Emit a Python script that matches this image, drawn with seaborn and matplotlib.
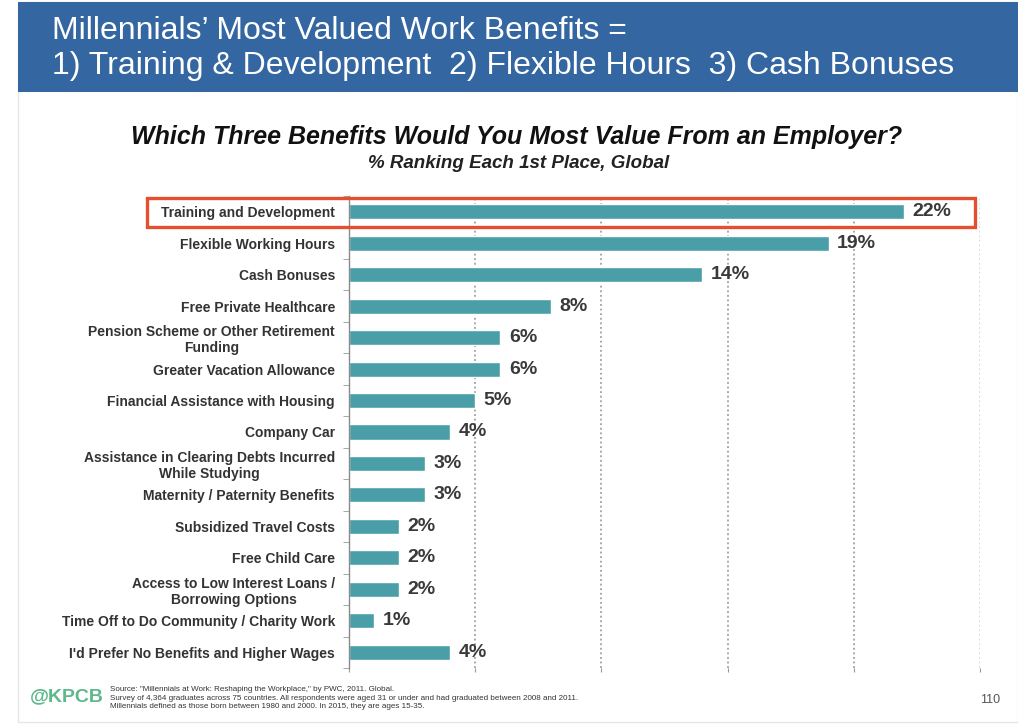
import numpy as np
import matplotlib
matplotlib.use("Agg")
import matplotlib.pyplot as plt
from matplotlib.patches import Rectangle
import seaborn as sns

# values (% ranking each benefit 1st place)
benefits = [
    "Training and Development",
    "Flexible Working Hours",
    "Cash Bonuses",
    "Free Private Healthcare",
    "Pension Scheme or Other Retirement\nFunding",
    "Greater Vacation Allowance",
    "Financial Assistance with Housing",
    "Company Car",
    "Assistance in Clearing Debts Incurred\nWhile Studying",
    "Maternity / Paternity Benefits",
    "Subsidized Travel Costs",
    "Free Child Care",
    "Access to Low Interest Loans /\nBorrowing Options",
    "Time Off to Do Community / Charity Work",
    "I'd Prefer No Benefits and Higher Wages",
]
pct = [22, 19, 14, 8, 6, 6, 5, 4, 3, 3, 2, 2, 2, 1, 4]
grid_ticks = [0, 5, 10, 15, 20, 25]

sns.set_style("white")
plt.rcParams['font.family'] = ['Liberation Sans', 'DejaVu Sans']

fig = plt.figure(figsize=(10.18, 7.24), dpi=100)

# slide frame + blue header band
fig.patches.append(Rectangle((18 / 1018, 0.003), 1 - 18 / 1018, 0.994, transform=fig.transFigure,
                             facecolor='none', edgecolor='#e6e6e6', lw=1, zorder=-1))
fig.patches.append(Rectangle((18 / 1018, 1 - 92 / 724), 1, 90 / 724, transform=fig.transFigure,
                             facecolor='#3466a2', edgecolor='none', zorder=1))
fig.text(52 / 1018, 1 - 31 / 724, "Millennials\u2019 Most Valued Work Benefits =",
         color='white', fontsize=23, va='center', ha='left')
fig.text(52 / 1018, 1 - 66 / 724, "1) Training & Development  2) Flexible Hours  3) Cash Bonuses",
         color='white', fontsize=23, va='center', ha='left')

fig.text(517 / 1018, 1 - 137 / 724, "Which Three Benefits Would You Most Value From an Employer?",
         fontsize=18, fontweight='bold', fontstyle='italic', ha='center', va='center', color='#111111')
fig.text(519 / 1018, 1 - 163 / 724, "% Ranking Each 1st Place, Global",
         fontsize=13.5, fontweight='bold', fontstyle='italic', ha='center', va='center', color='#222222')

ax = fig.add_axes([349 / 1018, 1 - 668 / 724, (980 - 349) / 1018, (668 - 196) / 724])
sns.barplot(x=pct, y=benefits, color='#4a9ea8', width=0.48, orient='h', ax=ax, saturation=1)

ax.set_xlim(0, 25)
ax.set_ylim(len(benefits) - 0.5, -0.5)
ax.set_xlabel("")
ax.set_ylabel("")

ax.set_xticks(grid_ticks)
ax.set_xticklabels([])
ax.tick_params(axis='x', length=3, color='#999999', bottom=True)
ax.xaxis.grid(True, color='#8f8f8f', linestyle=(0, (1.2, 1.8)), lw=1.1)
ax.get_xgridlines()[-1].set_color('#d0d0d0')
ax.get_xgridlines()[0].set_visible(False)

ax.set_yticks(range(len(benefits)))
ax.set_yticklabels(benefits, fontsize=10, fontweight='bold', color='#333333', multialignment='center')
ax.set_yticks(np.arange(-0.5, len(benefits), 1), minor=True)
ax.tick_params(axis='y', which='major', length=0, pad=10)
ax.tick_params(axis='y', which='minor', length=4, color='#999999', left=True)

for side in ['top', 'right', 'bottom']:
    ax.spines[side].set_visible(False)
ax.spines['left'].set_color('#8a8a8a')
ax.spines['left'].set_linewidth(1)

ax.bar_label(ax.containers[0], labels=[f"{v}%" for v in pct], padding=6,
             fontsize=14, fontweight='bold', color='#3a3a3a')

# highlight box round the top benefit
fig.patches.append(Rectangle((147 / 1018, 1 - 227 / 724), (975 - 147) / 1018, 29 / 724,
                             transform=fig.transFigure, facecolor='none',
                             edgecolor='#e4502f', lw=2.4, zorder=5))

# footer
fig.text(30 / 1018, 1 - 697 / 724, "@KPCB", color='#5fb88c', fontsize=14, fontweight='bold',
         va='center', ha='left')
source = ("Source: \"Millennials at Work: Reshaping the Workplace,\" by PWC, 2011. Global.\n"
          "Survey of 4,364 graduates across 75 countries. All respondents were aged 31 or under "
          "and had graduated between 2008 and 2011.\n"
          "Millennials defined as those born between 1980 and 2000. In 2015, they are ages 15-35.")
fig.text(110 / 1018, 1 - 698 / 724, source, fontsize=5.8, color='#333333', va='center', ha='left',
         linespacing=1.25)
fig.text(1000 / 1018, 1 - 700 / 724, "110", fontsize=9, color='#555555', va='center', ha='right')

fig.savefig("out.png", dpi=100)
